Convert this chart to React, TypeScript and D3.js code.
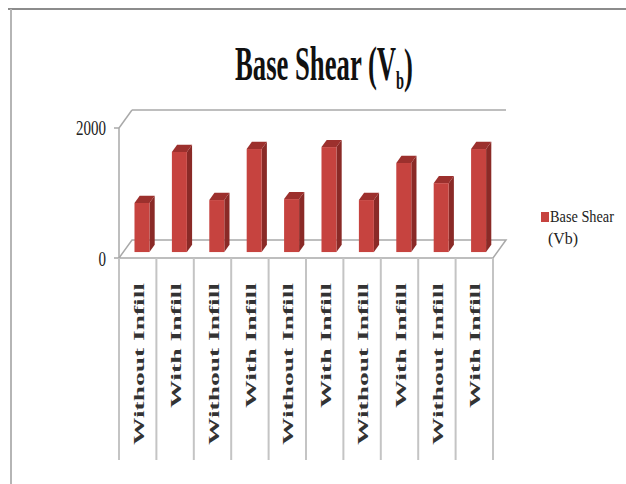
import React from "react";
import * as d3 from "d3";

// Base shear per model, alternating without / with infill walls
const categories: string[] = [
  "Without Infill",
  "With Infill",
  "Without Infill",
  "With Infill",
  "Without Infill",
  "With Infill",
  "Without Infill",
  "With Infill",
  "Without Infill",
  "With Infill",
];
const baseShear: number[] = [755, 1540, 800, 1585, 815, 1615, 800, 1370, 1060, 1585];
const yTicks: number[] = [0, 2000];
const seriesName = "Base Shear";
const seriesUnit = "(Vb)";

const W = 626;
const H = 484;

// front plane of the 3D box
const left = 119;
const right = 493;
const zeroY = 258;
const topY = 128;
// depth offset of the back wall
const DX = 13;
const DY = -18;

const serif = "'Liberation Serif', 'Times New Roman', serif";

export default function App() {
  const x = d3
    .scaleBand<number>()
    .domain(d3.range(categories.length))
    .range([left, right])
    .paddingInner(0)
    .paddingOuter(0);
  const y = d3.scaleLinear().domain([0, 2000]).range([zeroY, topY]);

  const bw = 15;
  const barPlane = 0.33; // depth of bar front face
  const barDepth = 0.4;
  const fx = DX * barPlane;
  const fy = DY * barPlane;
  const sx = DX * barDepth;
  const sy = DY * barDepth;

  const grid = "#a9a9a9";

  return (
    <div style={{ position: "fixed", left: 0, top: 0, width: W, height: H, background: "#fff" }}>
      <svg width={W} height={H} style={{ display: "block" }}>
        <rect x={0} y={0} width={W} height={H} fill="#fff" />
        {/* outer frame */}
        <line x1={8} x2={W} y1={9} y2={9} stroke="#8c8c8c" strokeWidth={2} />
        <line x1={11} x2={11} y1={9} y2={H} stroke="#b5b5b5" strokeWidth={2} />

        {/* title with subscript */}
        <text x={235} y={80} fontFamily={serif} fontWeight="bold" fontSize={48} textLength={178} lengthAdjust="spacingAndGlyphs" fill="#111">
          <tspan>Base Shear (V</tspan>
          <tspan fontSize={26} dy={9}>b</tspan>
          <tspan dy={-7}>)</tspan>
        </text>

        {/* back wall gridline at max, side wall diagonal */}
        {yTicks
          .filter((t) => t > 0)
          .map((t) => (
            <g key={t}>
              <line x1={left + DX} x2={right + DX} y1={y(t) + DY} y2={y(t) + DY} stroke={grid} strokeWidth={1.5} />
              <line x1={left} x2={left + DX} y1={y(t)} y2={y(t) + DY} stroke={grid} strokeWidth={1.5} />
            </g>
          ))}

        {/* floor */}
        <path
          d={`M${left},${zeroY} L${left + DX},${zeroY + DY} L${right + DX},${zeroY + DY} L${right},${zeroY} Z`}
          fill="none"
          stroke={grid}
          strokeWidth={1.5}
        />
        {/* value axis */}
        <line x1={left} x2={left} y1={y(2000)} y2={zeroY} stroke={grid} strokeWidth={1.5} />
        {yTicks.map((t) => (
          <g key={t}>
            <line x1={left - 5} x2={left} y1={y(t)} y2={y(t)} stroke={grid} strokeWidth={1.5} />
            <text
              x={106}
              y={y(t) + (t === 0 ? 8 : 7)}
              textAnchor="end"
              fontFamily={serif}
              fontSize={21}
              textLength={String(t).length * 7.5}
              lengthAdjust="spacingAndGlyphs"
              fill="#222"
            >
              {t}
            </text>
          </g>
        ))}

        {/* bars */}
        {baseShear.map((v, i) => {
          const cx = (x(i) as number) + x.bandwidth() / 2 + fx;
          const x0 = cx - bw / 2;
          const x1 = cx + bw / 2;
          const yb = zeroY + fy;
          const yt = y(v) + fy;
          return (
            <g key={i}>
              <path d={`M${x1},${yb} L${x1 + sx},${yb + sy} L${x1 + sx},${yt + sy} L${x1},${yt} Z`} fill="#8a2a27" />
              <path d={`M${x0},${yt} L${x0 + sx},${yt + sy} L${x1 + sx},${yt + sy} L${x1},${yt} Z`} fill="#9c302d" />
              <rect x={x0} y={yt} width={bw} height={yb - yt} fill="#c6433f" />
            </g>
          );
        })}

        {/* category dividers and labels */}
        {d3.range(categories.length + 1).map((i) => {
          const xx = i < categories.length ? (x(i) as number) : right;
          return <line key={i} x1={xx} x2={xx} y1={zeroY} y2={460} stroke="#c4c4c4" strokeWidth={2} />;
        })}
        {categories.map((c, i) => {
          const cx = (x(i) as number) + x.bandwidth() / 2 + 1;
          return (
            <text
              key={i}
              transform={`translate(${cx},283) rotate(-90)`}
              textAnchor="end"
              dominantBaseline="central"
              fontFamily={serif}
              fontWeight="bold"
              fontSize={15}
              textLength={c.length > 12 ? 162 : 125}
              lengthAdjust="spacingAndGlyphs"
              fill="#333"
            >
              {c}
            </text>
          );
        })}

        {/* legend */}
        <rect x={541} y={212} width={8} height={10} fill="#c6433f" />
        <text x={550} y={222} fontFamily={serif} fontSize={17} textLength={64} lengthAdjust="spacingAndGlyphs" fill="#222">
          {seriesName}
        </text>
        <text x={548} y={244} fontFamily={serif} fontSize={17} textLength={30} lengthAdjust="spacingAndGlyphs" fill="#222">
          {seriesUnit}
        </text>
      </svg>
    </div>
  );
}
